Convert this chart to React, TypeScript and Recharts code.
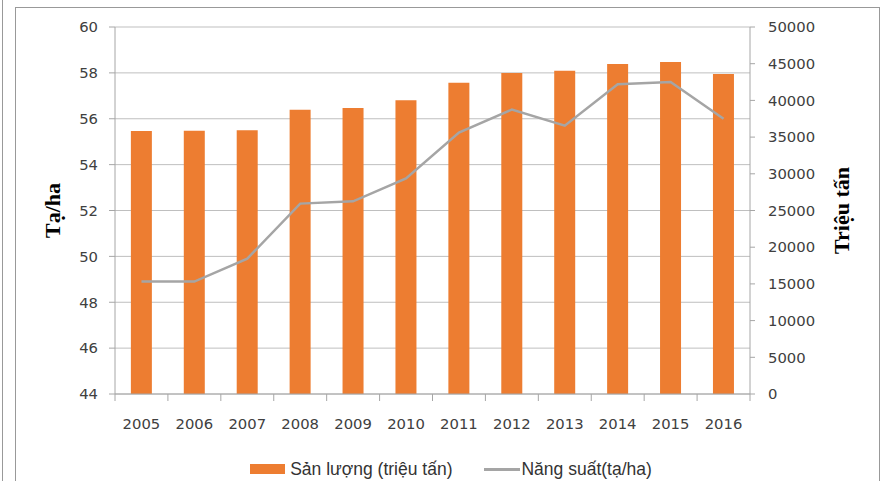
import {
  ComposedChart,
  Bar,
  Line,
  XAxis,
  YAxis,
  CartesianGrid,
  Legend
} from 'recharts';

const years = ['2005', '2006', '2007', '2008', '2009', '2010', '2011', '2012', '2013', '2014', '2015', '2016'];
const sanLuong = [35833, 35850, 35943, 38730, 38950, 40006, 42399, 43738, 44039, 44975, 45216, 43610];
const nangSuat = [48.9, 48.9, 49.9, 52.3, 52.4, 53.4, 55.4, 56.4, 55.7, 57.5, 57.6, 56.0];

const leftTicks = [44, 46, 48, 50, 52, 54, 56, 58, 60];
const rightTicks = [0, 5000, 10000, 15000, 20000, 25000, 30000, 35000, 40000, 45000, 50000];

const BAR_COLOR = '#ED7D31';
const LINE_COLOR = '#A5A5A5';
const AXIS_COLOR = '#A6A6A6';
const TEXT_COLOR = '#404040';
const TICK_FONT = '"DejaVu Sans", sans-serif';
const TICK_SIZE_PX = 14.8;

const data = years.map((year, i) => ({
  year,
  sanLuong: sanLuong[i],
  nangSuat: nangSuat[i]
}));

const X_TICK_SIZE = 7;
const X_TICK_MARGIN = 17;

// category labels in the middle, tick marks on the category boundaries (Excel style)
const YearTick = (props: any) => {
  const { x, y, payload, index, visibleTicksCount } = props;
  const half = payload.offset || 0;
  const axisY = y - X_TICK_MARGIN - X_TICK_SIZE;
  const isLast = index === visibleTicksCount - 1;
  return (
    <g>
      <line x1={x - half} x2={x - half} y1={axisY} y2={axisY + X_TICK_SIZE} stroke={AXIS_COLOR} />
      {isLast && (
        <line x1={x + half} x2={x + half} y1={axisY} y2={axisY + X_TICK_SIZE} stroke={AXIS_COLOR} />
      )}
      <text
        x={x}
        y={y}
        dy="0.71em"
        textAnchor="middle"
        fill={TEXT_COLOR}
        fontSize={TICK_SIZE_PX}
        fontFamily={TICK_FONT}
      >
        {payload.value}
      </text>
    </g>
  );
};

const renderLegend = () => (
  <div
    style={{
      height: 24,
      display: 'flex',
      alignItems: 'center',
      justifyContent: 'center',
      paddingLeft: 20,
      fontFamily: '"Liberation Sans", Arial, sans-serif',
      fontSize: 17.5,
      color: '#333'
    }}
  >
    <span style={{ display: 'inline-block', width: 35, height: 10, background: BAR_COLOR, marginRight: 5 }} />
    <span>Sản lượng (triệu tấn)</span>
    <span
      style={{
        display: 'inline-block',
        width: 36,
        height: 3,
        background: LINE_COLOR,
        marginLeft: 32,
        marginRight: 1
      }}
    />
    <span>Năng suất(tạ/ha)</span>
  </div>
);

export default function App() {
  return (
    <div
      style={{
        position: 'absolute',
        left: 0,
        top: 0,
        width: 882,
        height: 481,
        background: '#fff',
        overflow: 'hidden'
      }}
    >
      <div style={{ position: 'absolute', left: 2, top: 0, width: 1, height: 481, background: '#999' }} />
      <div
        style={{
          position: 'absolute',
          left: 15,
          top: 7,
          width: 863,
          height: 520,
          border: '1px solid #999',
          borderBottom: 'none'
        }}
      />
      <div style={{ position: 'absolute', left: 0, top: 0 }}>
        <ComposedChart
          width={882}
          height={481}
          data={data}
          margin={{ top: 27, right: 0, left: 0, bottom: 0 }}
          barCategoryGap="30%"
        >
          <CartesianGrid yAxisId="left" vertical={false} stroke="#BFBFBF" />
          <XAxis
            dataKey="year"
            height={63}
            tickLine={false}
            tickSize={X_TICK_SIZE}
            tickMargin={X_TICK_MARGIN}
            axisLine={{ stroke: AXIS_COLOR }}
            tick={<YearTick />}
            interval={0}
          />
          <YAxis
            yAxisId="left"
            orientation="left"
            width={115}
            domain={[44, 60]}
            ticks={leftTicks}
            interval={0}
            tickSize={6}
            tickMargin={11}
            axisLine={{ stroke: AXIS_COLOR }}
            tickLine={{ stroke: AXIS_COLOR }}
            tick={{ fill: TEXT_COLOR, fontSize: TICK_SIZE_PX, fontFamily: TICK_FONT }}
            label={{
              value: 'Tạ/ha',
              angle: -90,
              position: 'center',
              dx: -5,
              style: {
                fontFamily: '"Liberation Serif", "Times New Roman", serif',
                fontWeight: 'bold',
                fontSize: 22,
                fill: '#000'
              }
            }}
          />
          <YAxis
            yAxisId="right"
            orientation="right"
            width={132}
            domain={[0, 50000]}
            ticks={rightTicks}
            interval={0}
            tickSize={5}
            tickMargin={13}
            axisLine={{ stroke: AXIS_COLOR }}
            tickLine={{ stroke: AXIS_COLOR }}
            tick={{ fill: TEXT_COLOR, fontSize: TICK_SIZE_PX, fontFamily: TICK_FONT }}
            label={{
              value: 'Triệu tấn',
              angle: -90,
              position: 'center',
              dx: 25,
              style: {
                fontFamily: '"Liberation Serif", "Times New Roman", serif',
                fontWeight: 'bold',
                fontSize: 22,
                fill: '#000'
              }
            }}
          />
          <Legend verticalAlign="bottom" content={renderLegend} />
          <Bar
            yAxisId="right"
            dataKey="sanLuong"
            name="Sản lượng (triệu tấn)"
            fill={BAR_COLOR}
            isAnimationActive={false}
          />
          <Line
            yAxisId="left"
            dataKey="nangSuat"
            name="Năng suất(tạ/ha)"
            type="linear"
            stroke={LINE_COLOR}
            strokeWidth={2.5}
            dot={false}
            activeDot={false}
            isAnimationActive={false}
          />
        </ComposedChart>
      </div>
    </div>
  );
}
